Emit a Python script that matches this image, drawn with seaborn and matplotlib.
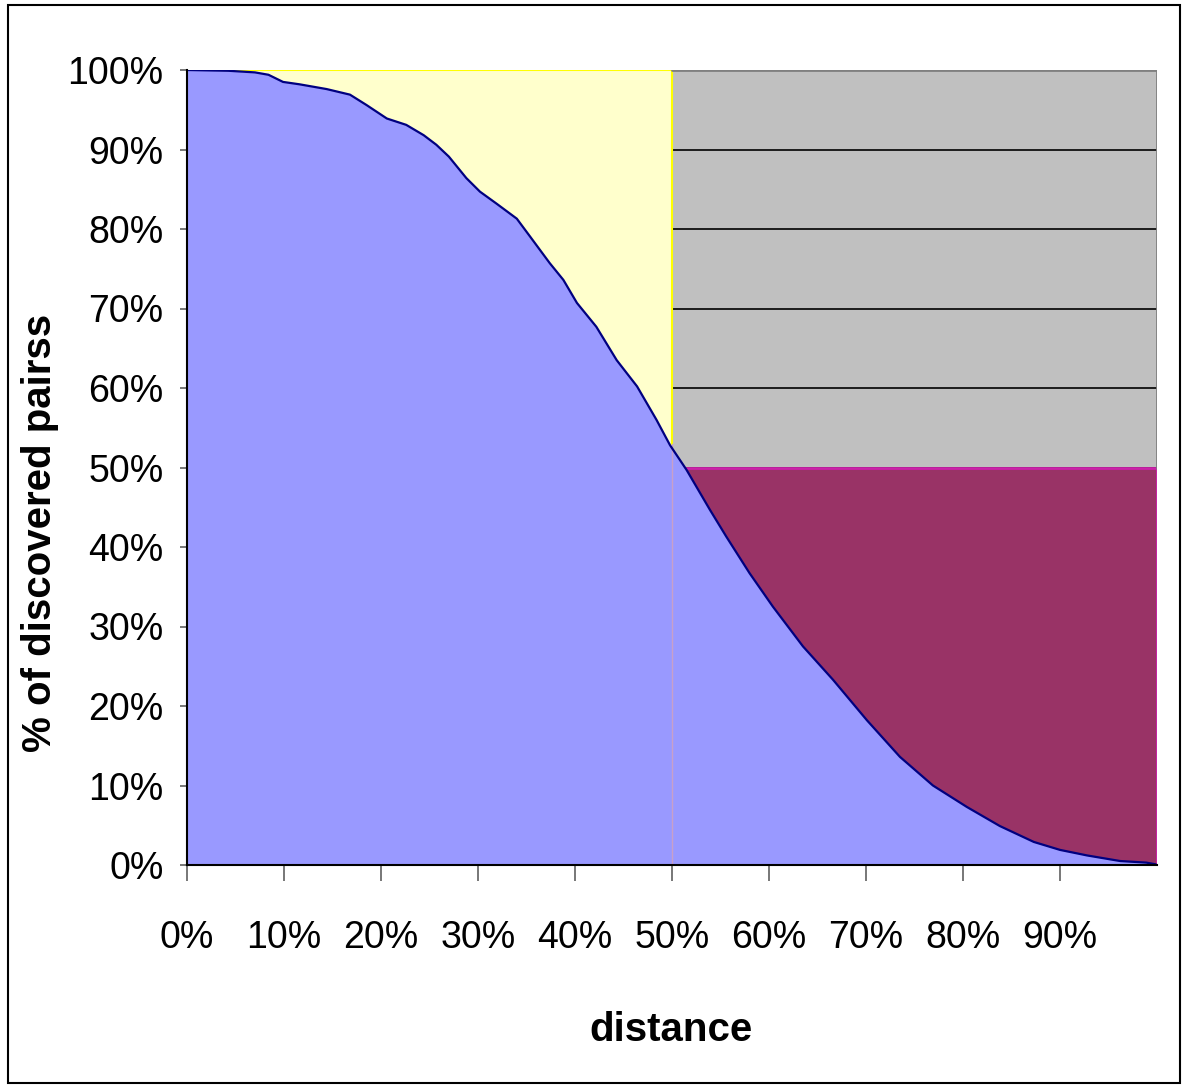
import matplotlib
matplotlib.use("Agg")
import matplotlib.pyplot as plt
import seaborn as sns
import pandas as pd
from matplotlib.patches import Rectangle

# curve (distance %, % of discovered pairs)
distance = [0, 4.3, 7.0, 8.4, 9.9, 11.6, 14.4, 16.8, 18.5, 20.6, 22.6, 24.4, 25.7,
            27.0, 28.8, 30.2, 31.9, 34.0, 35.4, 37.4, 38.8, 40.2, 42.2, 44.3, 46.4,
            48.4, 49.8, 51.5, 53.9, 55.6, 58.0, 60.4, 63.5, 66.6, 70.1, 73.5, 76.9,
            80.4, 83.8, 87.3, 90.0, 92.8, 96.2, 98.9, 99.8, 100]
discovered = [100, 99.9, 99.7, 99.4, 98.5, 98.2, 97.6, 96.9, 95.6, 93.9, 93.1, 91.8,
              90.6, 89.1, 86.4, 84.7, 83.2, 81.3, 79.0, 75.7, 73.6, 70.7, 67.7, 63.5,
              60.2, 56.0, 52.8, 49.7, 44.7, 41.3, 36.7, 32.5, 27.5, 23.3, 18.2, 13.6,
              10.0, 7.3, 4.9, 2.9, 1.9, 1.2, 0.5, 0.3, 0.1, 0.0]

x_ticks = [0, 10, 20, 30, 40, 50, 60, 70, 80, 90]
y_ticks = [0, 10, 20, 30, 40, 50, 60, 70, 80, 90, 100]
split = 50  # median split on both axes

df = pd.DataFrame({"distance": distance, "discovered": discovered})

sns.set_style("white")
plt.rcParams["font.family"] = ["Liberation Sans Narrow", "Liberation Sans", "DejaVu Sans"]
plt.rcParams["text.color"] = "black"
plt.rcParams["xtick.labelcolor"] = "black"
plt.rcParams["ytick.labelcolor"] = "black"

fig = plt.figure(figsize=(11.87, 10.88), dpi=100)
ax = fig.add_axes([187 / 1187, 1 - 865 / 1088, 970 / 1187, 795 / 1088])
ax.set_facecolor("#C0C0C0")

# excel style black gridlines (only visible on the gray plot area)
for yv in y_ticks[1:-1]:
    ax.axhline(yv, color="black", linewidth=1.2, zorder=0)

# yellow block: left half, full height
ax.fill_between([0, split], 0, 100, color="#FFFFCC", zorder=1, linewidth=0)
ax.plot([4, split, split], [100, 100, 53], color="#FFFF00", linewidth=1.5, zorder=1.5)

# maroon block: right half, lower half
ax.fill_between([split, 100], 0, split, color="#993366", zorder=1, linewidth=0)
ax.plot([split, 100, 100], [split, split, 0], color="#CC22AA", linewidth=2, zorder=1.5)

# plot area border on the gray part
ax.plot([split, 100, 100], [100, 100, split], color="#808080", linewidth=2, zorder=1.5)

# cumulative curve
ax.fill_between(df["distance"], 0, df["discovered"], color="#9999FF", zorder=2, linewidth=0)
sns.lineplot(data=df, x="distance", y="discovered", ax=ax, color="#000080",
             linewidth=1.6, zorder=3, sort=False)
ax.plot([split, split], [0, 53], color="#C8A0C8", linewidth=1, zorder=2.5)

ax.set_xlim(0, 100)
ax.set_ylim(0, 100)
ax.set_xticks(x_ticks)
ax.set_xticklabels([f"{v}%" for v in x_ticks])
ax.set_yticks(y_ticks)
ax.set_yticklabels([f"{v}%" for v in y_ticks])
ax.tick_params(axis="x", direction="out", length=11.5, width=1.2, color="#606060",
               pad=28, labelsize=27, bottom=True, labelcolor="black")
ax.tick_params(axis="y", direction="out", length=5, width=1.2, color="#606060",
               pad=12, labelsize=27, left=True, labelcolor="black")
ax.set_xlabel("")
ax.set_ylabel("")

for side in ["top", "right"]:
    ax.spines[side].set_visible(False)
for side in ["left", "bottom"]:
    ax.spines[side].set_color("black")
    ax.spines[side].set_linewidth(1.5)
    ax.spines[side].set_zorder(4)

fig.text(671 / 1187, 1 - 1030 / 1088, "distance", ha="center", va="center",
         fontsize=29, fontweight="bold", color="black")
fig.text(40 / 1187, 1 - 533 / 1088, "% of discovered pairss", ha="center", va="center",
         rotation=90, fontsize=29, fontweight="bold", color="black")

# outer frame of the chart object
fig.patches.append(Rectangle((8 / 1187, 5 / 1088), 1172 / 1187, 1078 / 1088,
                             transform=fig.transFigure, fill=False,
                             edgecolor="black", linewidth=1.5))

fig.savefig("out.png", dpi=100)
